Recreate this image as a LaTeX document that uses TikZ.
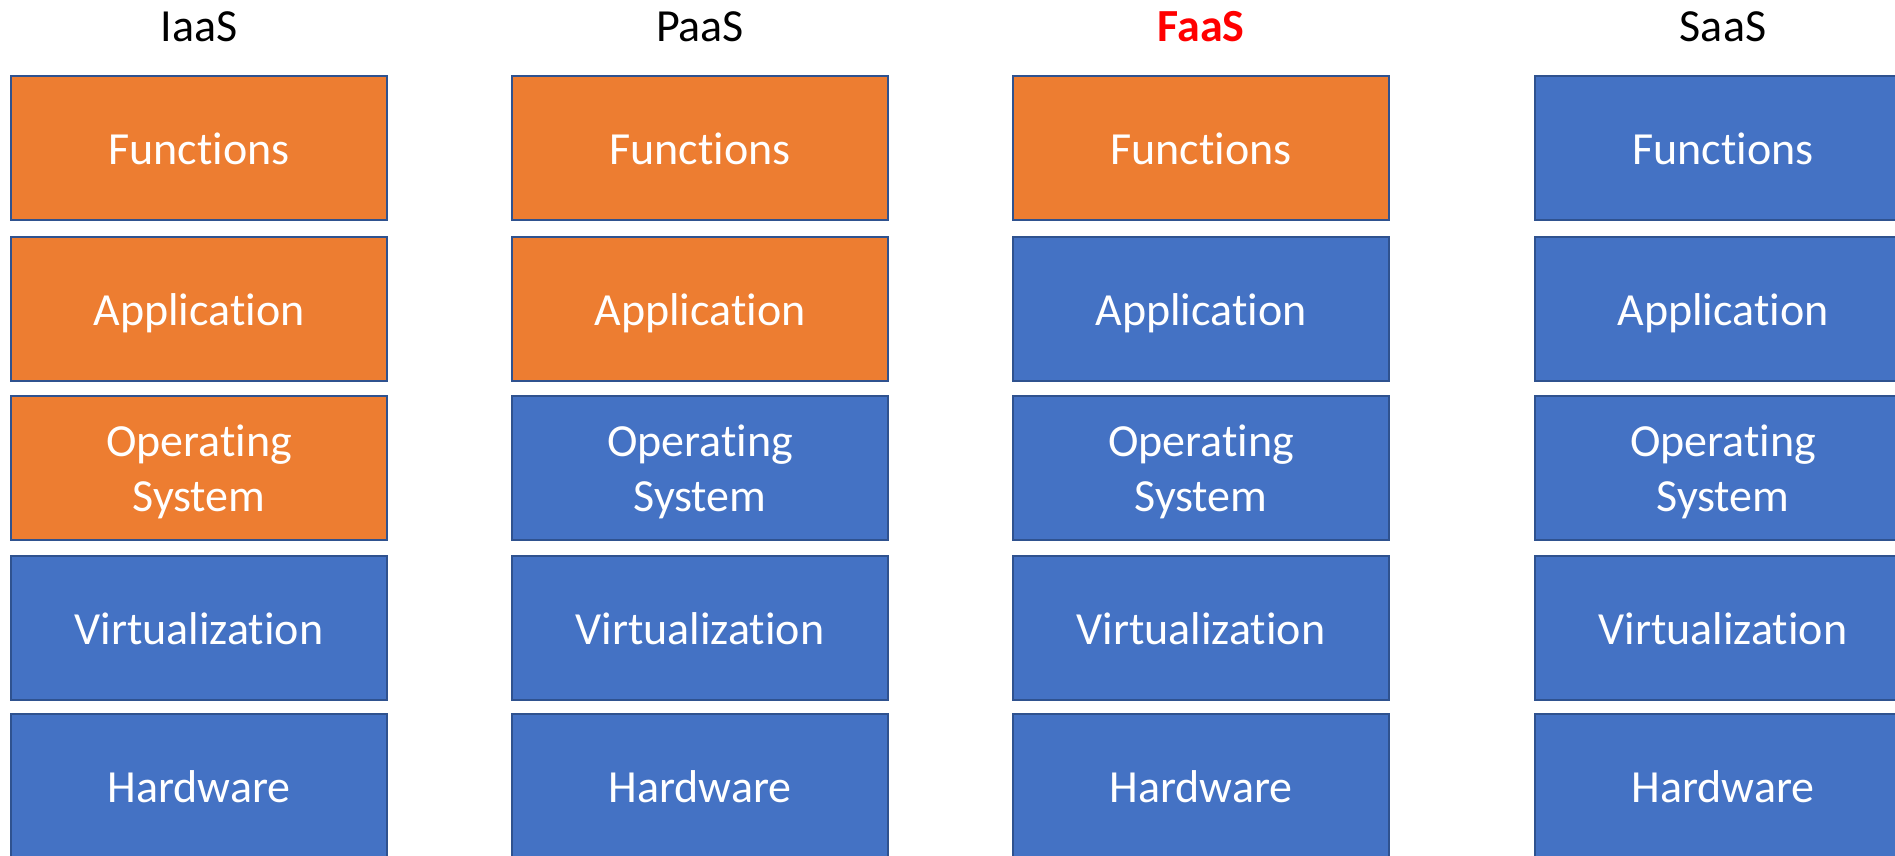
\documentclass[tikz,border=0pt]{standalone}
\usepackage{fontspec}
\setmainfont[Ligatures=NoCommon]{Carlito}
\definecolor{layerorange}{HTML}{ED7D31}
\definecolor{layerblue}{HTML}{4472C4}
\definecolor{layeredge}{HTML}{2F528F}
\tikzset{
    layer/.style={draw=layeredge, line width=1pt, minimum width=188pt, minimum height=72pt,
                  inner sep=0pt, text depth=0pt,
                  text=white, align=center, font=\fontsize{23}{27.5}\selectfont},
    title/.style={anchor=base, font=\fontsize{23}{27.5}\selectfont},
  }
\begin{document}
\begin{tikzpicture}[x=0.5pt,y=0.5pt]
    \useasboundingbox (0,0) rectangle (1895,856);

    %titres
    \node[title] (iaas) at (199,814) {IaaS};
    \node[title] (paas) at (700,814) {PaaS};
    \node[title, text=red, font=\fontsize{23}{27.5}\selectfont\bfseries] (faas) at (1201,814) {FaaS};
    \node[title] (saas) at (1723,814) {SaaS};

    %couches : les \n premieres sont en orange
    \foreach \col/\x/\n in {iaas/199/3, paas/700/2, faas/1201/1, saas/1723/0}{
      \foreach \txt/\lay/\y/\k/\h in {Functions/fn/708/1/17pt, Application/app/547/2/17pt,
                                      {Operating\\System}/os/388/3/44pt,
                                      Virtualization/virt/228/4/17pt, Hardware/hw/70/5/17pt}{
        \ifnum\k>\n \def\fillcol{layerblue}\else \def\fillcol{layerorange}\fi
        \node[layer, text height=\h, fill=\fillcol] (\col-\lay) at (\x,\y) {\txt};
      }
    }
\end{tikzpicture}
\end{document}
